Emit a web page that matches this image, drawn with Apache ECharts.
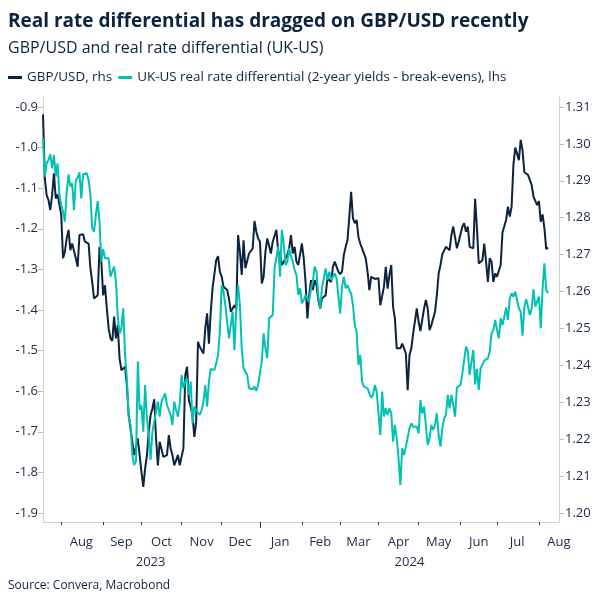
<!DOCTYPE html>
<html><head><meta charset="utf-8">
<script src="https://cdn.jsdelivr.net/npm/echarts@6/dist/echarts.min.js"></script>
<style>html,body{margin:0;padding:0;background:#fff}#c{width:604px;height:604px}</style>
</head><body><div id="c"></div>
<script>
// Weekday calendar (Macrobond-style business-day axis)
const FIRST_DAY = '2023-07-18';
const LAST_DAY = '2024-08-16';
const monthNames = ['Jan','Feb','Mar','Apr','May','Jun','Jul','Aug','Sep','Oct','Nov','Dec'];
const leftTicks = [-1.9,-1.8,-1.7,-1.6,-1.5,-1.4,-1.3,-1.2,-1.1,-1.0,-0.9];
const rightTicks = [1.20,1.21,1.22,1.23,1.24,1.25,1.26,1.27,1.28,1.29,1.30,1.31];

// GBP/USD, rhs (one value per weekday from FIRST_DAY)
const gbpusd = [
1.3080,1.2907,1.2861,1.2848,1.2821,1.2861,1.2920,1.2852,1.2863,1.2861,
1.2807,1.2690,1.2708,1.2744,1.2767,1.2712,1.2730,1.2728,1.2690,1.2667,
1.2753,1.2757,1.2755,1.2735,1.2733,1.2730,1.2663,1.2626,1.2581,1.2581,
1.2590,1.2721,1.2681,1.2590,1.2617,1.2554,1.2500,1.2473,1.2466,1.2532,
1.2473,1.2509,1.2419,1.2387,1.2384,1.2396,1.2346,1.2265,1.2229,1.2193,
1.2157,1.2161,1.2202,1.2197,1.2111,1.2071,1.2120,1.2157,1.2220,1.2265,
1.2283,1.2308,1.2202,1.2129,1.2193,1.2188,1.2152,1.2147,1.2157,1.2211,
1.2175,
1.2157,1.2129,1.2129,1.2157,1.2129,1.2125,1.2175,1.2373,1.2396,1.2306,
1.2288,1.2265,1.2206,1.2247,1.2464,1.2450,1.2446,1.2432,1.2500,1.2541,
1.2459,1.2545,1.2610,1.2610,1.2685,1.2696,1.2654,1.2640,1.2613,1.2617,
1.2604,1.2581,1.2545,1.2554,1.2563,1.2554,1.2753,1.2708,1.2645,1.2739,
1.2663,1.2658,1.2703,1.2699,1.2717,1.2791,1.2762,1.2744,1.2735,1.2622,
1.2640,1.2708,1.2744,1.2744,1.2703,1.2735,1.2730,1.2767,1.2708,1.2699,
1.2672,1.2681,1.2676,1.2699,1.2717,1.2753,1.2703,1.2721,1.2681,1.2672,
1.2672,1.2730,1.2690,1.2626,1.2527,1.2590,1.2631,1.2604,1.2631,1.2617,
1.2577,1.2554,1.2581,1.2586,1.2590,1.2636,1.2636,1.2626,1.2667,1.2681,
1.2681,1.2654,1.2647,1.2654,1.2699,1.2721,1.2739,1.2803,1.2870,1.2798,
1.2785,1.2794,1.2748,1.2730,1.2717,1.2712,1.2690,1.2654,1.2604,1.2640,
1.2636,1.2634,1.2636,1.2636,1.2563,1.2568,1.2613,1.2667,1.2608,1.2645,
1.2672,1.2559,1.2527,1.2446,1.2444,1.2446,1.2459,1.2446,1.2432,1.2333,
1.2428,1.2446,1.2486,1.2482,1.2554,1.2518,1.2493,1.2491,1.2554,1.2577,
1.2554,
1.2495,1.2509,1.2509,1.2545,1.2590,1.2649,1.2672,1.2701,1.2703,1.2721,
1.2726,1.2712,1.2753,1.2776,1.2776,1.2717,1.2735,1.2735,1.2776,1.2785,
1.2762,1.2776,1.2721,1.2717,1.2717,1.2851,1.2771,1.2676,1.2676,1.2685,
1.2730,1.2681,1.2626,1.2690,1.2681,1.2626,1.2649,1.2640,1.2645,1.2672,
1.2760,1.2764,1.2794,1.2830,1.2803,1.2830,1.2943,1.2990,1.2988,1.2956,
1.3011,1.2983,1.2923,1.2920,1.2916,1.2920,1.2889,1.2857,1.2852,1.2834,
1.2845,1.2789,1.2809,1.2771,1.2715,1.2719
];

// UK-US real rate differential (2-year yields - break-evens), lhs
const realDiff = [
-0.9772,-1.0716,-1.0387,-1.0305,-1.0166,-1.0511,-1.0182,-1.0716,-1.0387,-1.1167,
-1.1414,-1.1578,-1.1824,-1.1085,-1.0658,-1.0962,-1.0880,-1.1537,-1.0798,-1.0741,
-1.0609,-1.1250,-1.0658,-1.0634,-1.0634,-1.0798,-1.1167,-1.1988,-1.2071,-1.1660,
-1.1315,-1.1824,-1.2809,-1.2497,-1.2727,-1.2686,-1.2727,-1.3179,-1.3179,-1.2933,
-1.3302,-1.4164,-1.4575,-1.4451,-1.3959,-1.5108,-1.5683,-1.6627,-1.6832,-1.7571,
-1.7818,-1.7735,-1.5272,-1.6463,-1.6340,-1.6997,-1.5847,-1.6668,-1.7079,-1.7694,
-1.6997,-1.7038,-1.6504,-1.6258,-1.6627,-1.6258,-1.6217,-1.6052,-1.6340,-1.6299,
-1.6586,
-1.6832,-1.6258,-1.6463,-1.6627,-1.6299,-1.5601,-1.5929,-1.5765,-1.5683,-1.6093,
-1.5765,-1.6791,-1.6381,-1.6463,-1.6504,-1.6586,-1.6463,-1.6258,-1.5847,-1.6381,
-1.5765,-1.5453,-1.5437,-1.5478,-1.5313,-1.5108,-1.4534,-1.3384,-1.3548,-1.3877,
-1.4287,-1.4698,-1.4739,-1.4041,-1.4985,-1.3959,-1.3384,-1.3877,-1.4944,-1.5437,
-1.5519,-1.5601,-1.5929,-1.5970,-1.5954,-1.5888,-1.5995,-1.5847,-1.5831,-1.5272,
-1.4575,-1.4944,-1.5190,-1.4205,-1.4189,-1.4123,-1.2974,-1.2933,-1.2440,-1.3179,
-1.2030,-1.2358,-1.2892,-1.2809,-1.2481,-1.2686,-1.2809,-1.3015,-1.3138,-1.3630,
-1.3466,-1.3836,-1.3754,-1.3630,-1.3589,-1.3795,-1.3466,-1.3302,-1.2933,-1.3056,
-1.3672,-1.3959,-1.3466,-1.3220,-1.2974,-1.3261,-1.3056,-1.3261,-1.3302,-1.3097,
-1.3220,-1.3179,-1.4082,-1.3425,-1.3179,-1.3466,-1.3384,-1.3507,-1.3589,-1.3877,
-1.4369,-1.4534,-1.5355,-1.5108,-1.5765,-1.5888,-1.5847,-1.5929,-1.6052,-1.6159,
-1.6093,-1.5847,-1.6011,-1.6011,-1.7079,-1.6011,-1.6627,-1.6422,-1.6586,-1.6422,
-1.6545,-1.7243,-1.6832,-1.7161,-1.7653,-1.8310,-1.7407,-1.7571,-1.7366,-1.7407,
-1.6914,-1.6791,-1.6873,-1.6832,-1.6873,-1.7038,-1.6217,-1.6545,-1.6381,-1.6381,
-1.7325,
-1.7161,-1.6832,-1.6956,-1.6832,-1.6545,-1.7079,-1.7366,-1.6914,-1.6668,-1.6586,
-1.6093,-1.6422,-1.6093,-1.6093,-1.6627,-1.5913,-1.5888,-1.5847,-1.5560,-1.5231,
-1.4903,-1.5026,-1.5601,-1.5272,-1.4985,-1.5831,-1.5453,-1.5970,-1.5437,-1.5396,
-1.5248,-1.5215,-1.5190,-1.5026,-1.4575,-1.4492,-1.4246,-1.4492,-1.4698,-1.4205,
-1.4369,-1.4164,-1.3942,-1.4246,-1.3713,-1.3589,-1.3672,-1.3548,-1.3754,-1.3959,
-1.4041,-1.4632,-1.3918,-1.3729,-1.3713,-1.4123,-1.3959,-1.3483,-1.3918,-1.3795,
-1.3672,-1.4451,-1.3466,-1.2850,-1.3507,-1.3589
];

function weekdays(a, b) {
  const out = [];
  let d = new Date(a + 'T00:00:00Z');
  const e = new Date(b + 'T00:00:00Z');
  while (d <= e) {
    const w = d.getUTCDay();
    if (w !== 0 && w !== 6) out.push(d.toISOString().slice(0, 10));
    d = new Date(d.getTime() + 86400000);
  }
  return out;
}
const dates = weekdays(FIRST_DAY, LAST_DAY);
const idx = {};
dates.forEach((d, i) => idx[d] = i);

// month boundaries, mid-month label positions, year boundary & year label positions
const monthStart = new Set();
const monthLabelAt = {};
const yearStart = new Set();
const yearLabelAt = {};
const seenMonths = {};
const yearRange = {};
dates.forEach((d, i) => {
  const ym = d.slice(0, 7);
  if (i > 0 && ym !== dates[i - 1].slice(0, 7)) monthStart.add(i);
  if (i > 0 && d.slice(0, 4) !== dates[i - 1].slice(0, 4)) yearStart.add(i);
  seenMonths[ym] = true;
  const y = d.slice(0, 4);
  if (!yearRange[y]) yearRange[y] = [i, i]; else yearRange[y][1] = i;
});
Object.keys(seenMonths).forEach(ym => {
  const y = +ym.slice(0, 4), m = +ym.slice(5, 7);
  const first = ym + '-01';
  const lastDay = new Date(Date.UTC(y, m, 0)).toISOString().slice(0, 10);
  const full = weekdays(first, lastDay);
  const mid = full[Math.floor(full.length / 2)];
  if (idx[mid] !== undefined) monthLabelAt[idx[mid]] = monthNames[m - 1];
});
Object.keys(yearRange).forEach(y => {
  const r = yearRange[y];
  yearLabelAt[Math.floor((r[0] + r[1]) / 2)] = y;
});

const FONT = "'Open Sans', 'Noto Sans', sans-serif";
const NAVY = '#0c2340';
const TEAL = '#00c2b2';
const TXT = '#1b2a47';
const AXIS = '#d3d3d3';

const chart = echarts.init(document.getElementById('c'), null, {renderer: 'canvas'});
chart.setOption({
  animation: false,
  backgroundColor: '#fff',
  textStyle: {fontFamily: FONT},
  title: [
    {text: 'Real rate differential has dragged on GBP/USD recently', left: 8, top: 12, padding: 0,
     textStyle: {fontFamily: FONT, fontSize: 19, fontWeight: 'bold', color: NAVY}},
    {text: 'GBP/USD and real rate differential (UK-US)', left: 8, top: 40, padding: 0,
     textStyle: {fontFamily: FONT, fontSize: 16, fontWeight: 'normal', color: NAVY}},
    {text: 'Source: Convera, Macrobond', left: 8, top: 580, padding: 0,
     textStyle: {fontFamily: FONT, fontSize: 12, fontWeight: 'normal', color: NAVY}}
  ],
  legend: {
    left: 8, top: 71, padding: 0, icon: 'rect', itemWidth: 14, itemHeight: 3, itemGap: 6,
    selectedMode: false,
    textStyle: {fontFamily: FONT, fontSize: 13.4, color: NAVY},
    data: ['GBP/USD, rhs', 'UK-US real rate differential (2-year yields - break-evens), lhs']
  },
  grid: {left: 43, right: 45, top: 97, bottom: 82, containLabel: false},
  xAxis: [
    {
      type: 'category', data: dates, boundaryGap: false, position: 'bottom',
      axisLine: {show: true, lineStyle: {color: AXIS, width: 1}},
      axisTick: {show: true, length: 3, lineStyle: {color: '#333', width: 1},
                 interval: (i) => monthStart.has(i)},
      axisLabel: {interval: (i) => monthLabelAt[i] !== undefined,
                  formatter: (v, i) => monthLabelAt[i] || '',
                  margin: 14, fontSize: 13, color: TXT, fontFamily: FONT, hideOverlap: false},
      splitLine: {show: false}
    },
    {
      type: 'category', data: dates, boundaryGap: false, position: 'bottom', gridIndex: 0,
      axisLine: {show: false},
      axisTick: {show: true, length: 6, lineStyle: {color: '#333', width: 1},
                 interval: (i) => yearStart.has(i)},
      axisLabel: {interval: (i) => yearLabelAt[i] !== undefined,
                  formatter: (v, i) => yearLabelAt[i] || '',
                  margin: 34, fontSize: 13, color: TXT, fontFamily: FONT, hideOverlap: false},
      splitLine: {show: false}
    }
  ],
  yAxis: [
    {
      type: 'value', position: 'left', min: -1.9222, max: -0.8754,
      axisLine: {show: true, lineStyle: {color: AXIS}},
      axisTick: {show: true, length: 5, lineStyle: {color: '#bdbdbd'}, customValues: leftTicks},
      axisLabel: {customValues: leftTicks, formatter: v => v.toFixed(1), margin: 5,
                  fontSize: 13, color: TXT, fontFamily: FONT},
      splitLine: {show: false}
    },
    {
      type: 'value', position: 'right', min: 1.19756, max: 1.3127,
      axisLine: {show: true, lineStyle: {color: AXIS}},
      axisTick: {show: true, length: 5, lineStyle: {color: '#bdbdbd'}, customValues: rightTicks},
      axisLabel: {customValues: rightTicks, formatter: v => v.toFixed(2), margin: 6,
                  fontSize: 13, color: TXT, fontFamily: FONT},
      splitLine: {show: false}
    }
  ],
  series: [
    {name: 'GBP/USD, rhs', type: 'line', xAxisIndex: 0, yAxisIndex: 1, data: gbpusd,
     showSymbol: false, symbol: 'none', color: NAVY, lineStyle: {color: NAVY, width: 2}, clip: false},
    {name: 'UK-US real rate differential (2-year yields - break-evens), lhs', type: 'line',
     xAxisIndex: 0, yAxisIndex: 0, data: realDiff,
     showSymbol: false, symbol: 'none', color: TEAL, lineStyle: {color: TEAL, width: 2}, clip: false}
  ]
});
</script>
</body></html>
